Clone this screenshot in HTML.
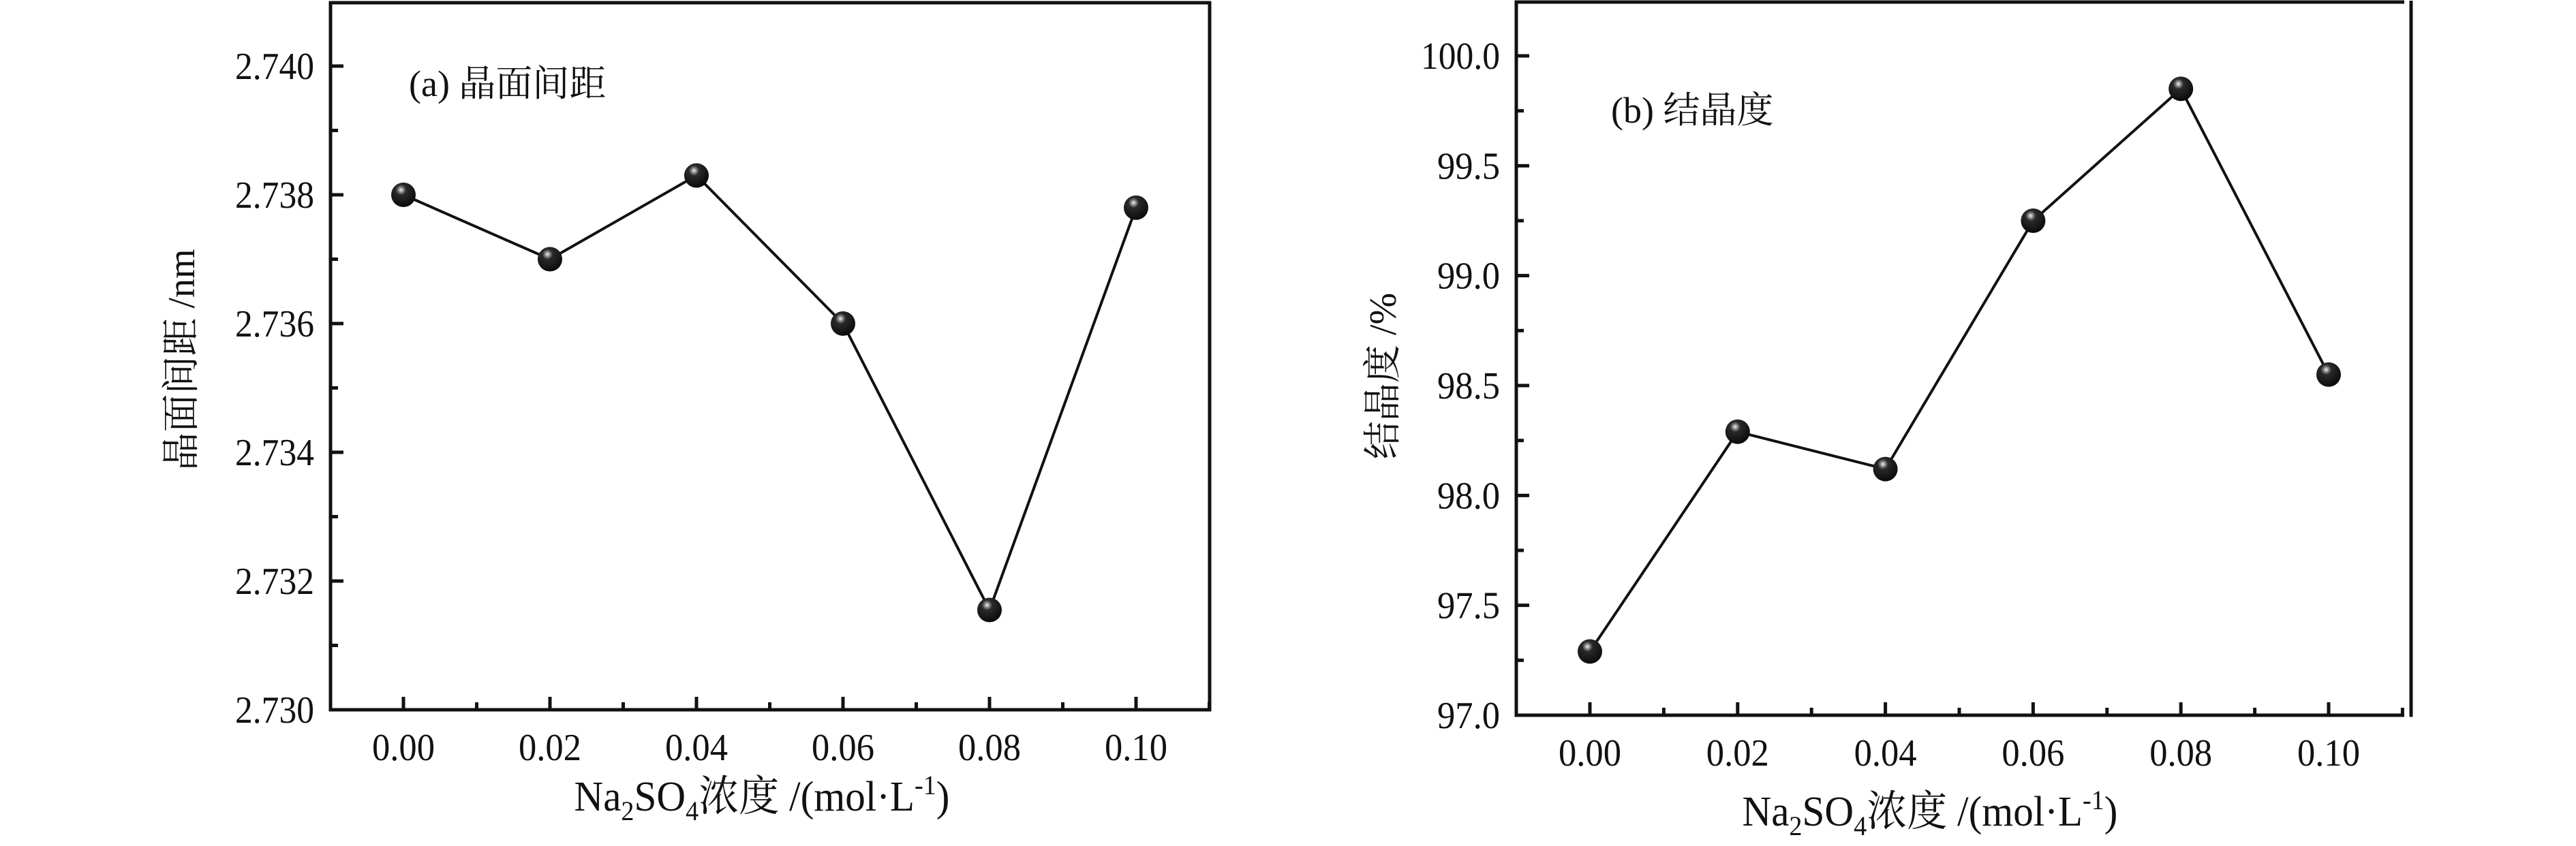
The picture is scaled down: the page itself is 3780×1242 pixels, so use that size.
<!DOCTYPE html>
<html><head><meta charset="utf-8"><style>
html,body{margin:0;padding:0;background:#fff;}
svg{display:block;}
text{font-family:"Liberation Serif","Noto Serif CJK SC","Noto Sans CJK SC",serif;fill:#111;}
</style></head><body>
<svg id="fig" width="3780" height="1242" viewBox="0 0 3780 1242" xmlns="http://www.w3.org/2000/svg">
<defs>
<radialGradient id="ball" cx="0.4" cy="0.3" r="0.7">
<stop offset="0" stop-color="#f4f4f4"/><stop offset="0.12" stop-color="#9a9a9a"/><stop offset="0.3" stop-color="#2a2a2a"/><stop offset="1" stop-color="#0a0a0a"/>
</radialGradient>
</defs>
<g id="chartA"></g>
<g id="chartB"></g>
</svg>
<script>
var categories = [0.00, 0.02, 0.04, 0.06, 0.08, 0.10];
var xTickLabels = ["0.00","0.02","0.04","0.06","0.08","0.10"];
var spacingValues = [2.7380, 2.7370, 2.7383, 2.7360, 2.73155, 2.7378];
var spacingTicks = [2.730, 2.732, 2.734, 2.736, 2.738, 2.740];
var spacingTickLabels = ["2.730","2.732","2.734","2.736","2.738","2.740"];
var crystValues = [97.29, 98.29, 98.12, 99.25, 99.85, 98.55];
var crystTicks = [97.0, 97.5, 98.0, 98.5, 99.0, 99.5, 100.0];
var crystTickLabels = ["97.0","97.5","98.0","98.5","99.0","99.5","100.0"];

var NS = "http://www.w3.org/2000/svg";
function mk(parent, tag, attrs) {
  var e = document.createElementNS(NS, tag);
  for (var k in attrs) e.setAttribute(k, attrs[k]);
  parent.appendChild(e);
  return e;
}

function drawChart(g, cfg) {
  var xs = function (v) { return cfg.x0 + (v - 0) / 0.01 * cfg.xStep; };
  var ys = function (v) { return cfg.yBase - (v - cfg.yMin) / (cfg.yMax - cfg.yMin) * (cfg.yBase - cfg.yTop); };
  var sw = 5;
  // frame
  var l;
  l = mk(g, 'line', {x1: cfg.left, y1: cfg.frameTop - 2, x2: cfg.left, y2: cfg.bottom + sw / 2, stroke: '#111', 'stroke-width': sw});
  
  
  l = mk(g, 'line', {x1: cfg.left - sw / 2, y1: cfg.bottom, x2: cfg.bottomEnd, y2: cfg.bottom, stroke: '#111', 'stroke-width': sw});
  
  
  l = mk(g, 'line', {x1: cfg.left - sw / 2, y1: cfg.frameTop, x2: cfg.topEnd, y2: cfg.frameTop, stroke: '#111', 'stroke-width': sw});
  
  
  l = mk(g, 'line', {x1: cfg.right, y1: cfg.frameTop - 2, x2: cfg.right, y2: cfg.bottom + sw / 2, stroke: '#111', 'stroke-width': sw});
  
  

  // x ticks
  for (var i = 0; i < categories.length; i++) {
    var x = xs(categories[i]);
    var t = mk(g, 'line', {x1: x, y1: cfg.bottom, x2: x, y2: cfg.bottom - 19, stroke: '#111', 'stroke-width': 5});
    
    
    var lb = mk(g, 'text', {x: x, y: cfg.bottom + 74, 'font-size': 56, 'text-anchor': 'middle', textLength: 92, lengthAdjust: 'spacingAndGlyphs'});
    lb.textContent = xTickLabels[i];
    
    
  }
  for (var m = -1; m < categories.length; m++) {
    var xm = xs(m * 0.02 + 0.01);
    if (xm < cfg.left + 10 || xm > cfg.bottomEnd + 1) continue;
    var tm = mk(g, 'line', {x1: xm, y1: cfg.bottom, x2: xm, y2: cfg.bottom - 11, stroke: '#111', 'stroke-width': 5});
    
    
  }
  // y ticks
  for (var j = 0; j < cfg.ticks.length; j++) {
    var y = ys(cfg.ticks[j]);
    var ty = mk(g, 'line', {x1: cfg.left, y1: y, x2: cfg.left + 19, y2: y, stroke: '#111', 'stroke-width': 5});
    
    
    var yl = mk(g, 'text', {x: cfg.left - 24, y: y + 19, 'font-size': 56, 'text-anchor': 'end', textLength: cfg.tickLabelLen[j], lengthAdjust: 'spacingAndGlyphs'});
    yl.textContent = cfg.tickLabels[j];
    
    
    if (j < cfg.ticks.length - 1) {
      var ym = ys((cfg.ticks[j] + cfg.ticks[j + 1]) / 2);
      var tmy = mk(g, 'line', {x1: cfg.left, y1: ym, x2: cfg.left + 11, y2: ym, stroke: '#111', 'stroke-width': 5});
      
      
    }
  }
  // series line
  var pts = [];
  for (var k = 0; k < categories.length; k++) pts.push(xs(categories[k]).toFixed(1) + ',' + ys(cfg.values[k]).toFixed(1));
  var pl = mk(g, 'polyline', {points: pts.join(' '), fill: 'none', stroke: '#111', 'stroke-width': 4});
  
  
  for (var p = 0; p < categories.length; p++) {
    var c = mk(g, 'circle', {cx: xs(categories[p]), cy: ys(cfg.values[p]), r: 18, fill: 'url(#ball)'});
    
    
  }
  // labels
  var pt = mk(g, 'text', {x: cfg.panelX, y: cfg.panelY, 'font-size': 54});
  pt.textContent = cfg.panelLabel;
  
  

  var yt = mk(g, 'text', {x: 0, y: 0, 'font-size': 56, 'text-anchor': 'middle', transform: 'translate(' + cfg.ytX + ',' + cfg.ytY + ') rotate(-90)'});
  yt.textContent = cfg.yTitle;
  
  

  var xt = mk(g, 'text', {x: cfg.xtX, y: cfg.xtY, 'font-size': 62, 'text-anchor': 'middle', textLength: 551, lengthAdjust: 'spacingAndGlyphs'});
  
  
  xt.innerHTML = 'Na<tspan font-size="40" dy="14">2</tspan><tspan dy="-14">SO</tspan><tspan font-size="40" dy="14">4</tspan><tspan dy="-14">浓度 /(mol·L</tspan><tspan font-size="40" dy="-24">-1</tspan><tspan dy="24">)</tspan>';
}

drawChart(document.getElementById('chartA'), {
  left: 485, right: 1775, bottom: 1042, frameTop: 4, bottomEnd: 1775, topEnd: 1777,
  x0: 592, xStep: 107.5, yMin: 2.730, yMax: 2.740, yBase: 1042, yTop: 97,
  ticks: spacingTicks, tickLabels: spacingTickLabels, tickLabelLen: [116,116,116,116,116,116],
  values: spacingValues, panelLabel: '(a) 晶面间距', panelX: 600, panelY: 141,
  yTitle: '晶面间距  /nm', ytX: 285, ytY: 528, xtX: 1118, xtY: 1190
});
drawChart(document.getElementById('chartB'), {
  left: 2225, right: 3538, bottom: 1050, frameTop: 3, bottomEnd: 3528, topEnd: 3528,
  x0: 2333, xStep: 108.4, yMin: 97.0, yMax: 100.0, yBase: 1050, yTop: 82,
  ticks: crystTicks, tickLabels: crystTickLabels, tickLabelLen: [92,92,92,92,92,92,116],
  values: crystValues, panelLabel: '(b)  结晶度', panelX: 2364, panelY: 180,
  yTitle: '结晶度 /%', ytX: 2048, ytY: 552, xtX: 2832, xtY: 1212
});
</script>
</body></html>
